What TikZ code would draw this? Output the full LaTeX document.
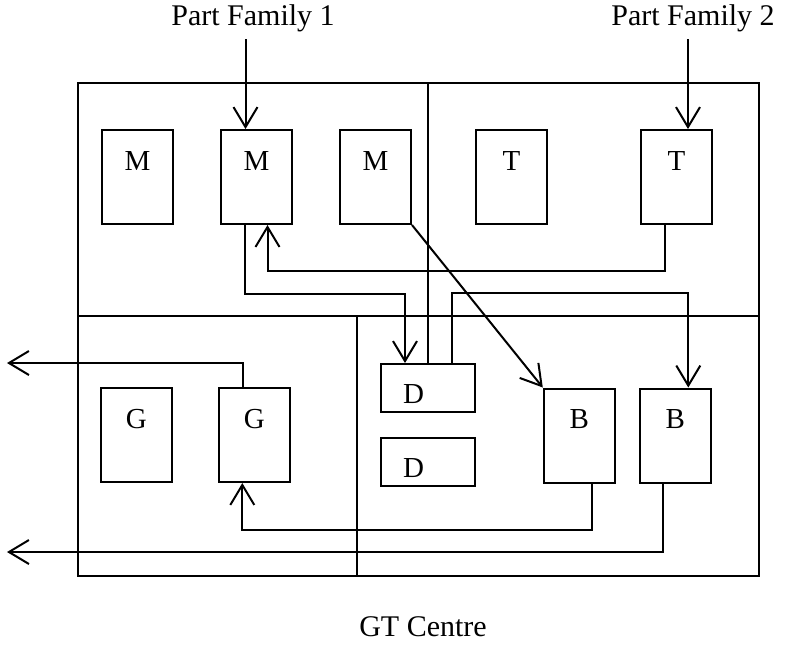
\documentclass[tikz,border=0pt]{standalone}
\usepackage{fontspec}
\setmainfont{Liberation Serif}
\usetikzlibrary{arrows.meta,positioning}

\begin{document}
\begin{tikzpicture}[
  x=0.5pt, y=-0.5pt,
  line width=1pt,
  >={Straight Barb[length=10pt,width=12pt]},
  every node/.style={font=\fontsize{15}{18}\selectfont},
  machine/.style={draw,inner sep=0pt,minimum width=35.5pt,minimum height=47pt,
    text height=20pt,text depth=27pt,font=\fontsize{14.5}{17}\selectfont},
  cell/.style={draw,inner xsep=11pt,inner ysep=0pt,text width=25pt,align=left,
    text height=19.5pt,text depth=4.5pt,font=\fontsize{14.5}{17}\selectfont},
  flow/.style={->}
]
  \useasboundingbox (0,0) rectangle (789,645);

  % frame of the centre
  \coordinate (nw) at (78,83);
  \coordinate (se) at (759,576);
  \draw (nw) rectangle (se);
  \draw (78,316) -- (759,316);
  \draw (357,316) -- (357,576);

  % milling and turning
  \node[machine] (m1) at (137.5,177) {M};
  \node[machine,right=23pt of m1] (m2) {M};
  \node[machine,right=23pt of m2] (m3) {M};
  \node[machine] (t1) at (511.5,177) {T};
  \node[machine] (t2) at (676.5,177) {T};

  % grinding, drilling, boring
  \node[machine] (g1) at (136.3,435) {G};
  \node[machine,right=22.5pt of g1] (g2) {G};
  \node[cell] (d1) at (428,388) {D};
  \node[cell,below=12pt of d1] (d2) {D};
  \node[machine] (b1) at (579.3,435.5) {B};
  \node[machine,right=11.5pt of b1] (b2) {B};

  \node (pf1) at (253,18) {Part Family 1};
  \node (pf2) at (693,18) {Part Family 2};
  \node (gt) at (423,627) {GT Centre};

  \coordinate (exit1) at (7,363);
  \coordinate (exit2) at (7,552);

  \draw (d1.north) -- (d1.north |- nw);
  \draw[flow] ([xshift=-5.5pt]m2.north |- pf1.south) -- ([xshift=-5.5pt]m2.north);
  \draw[flow] ([xshift=5.75pt]t2.north |- pf2.south) -- ([xshift=5.75pt]t2.north);
  \draw[flow] ([xshift=-6pt]m2.south) -- ++(0,69) -| ([xshift=-11.5pt]d1.north);
  \draw[flow] ([xshift=-5.75pt]t2.south) -- ++(0,46) -| ([xshift=5.5pt]m2.south);
  \draw[flow] (m3.south east) -- (b1.north west);
  \draw[flow] ([xshift=12pt]d1.north) -- ++(0,-70) -| ([xshift=6.5pt]b2.north);
  \draw[flow] ([xshift=-5.5pt]g2.north) |- (exit1);
  \draw[flow] ([xshift=6.25pt]b1.south) -- ++(0,46) -| ([xshift=-6pt]g2.south);
  \draw[flow] ([xshift=-6pt]b2.south) |- (exit2);
\end{tikzpicture}
\end{document}
